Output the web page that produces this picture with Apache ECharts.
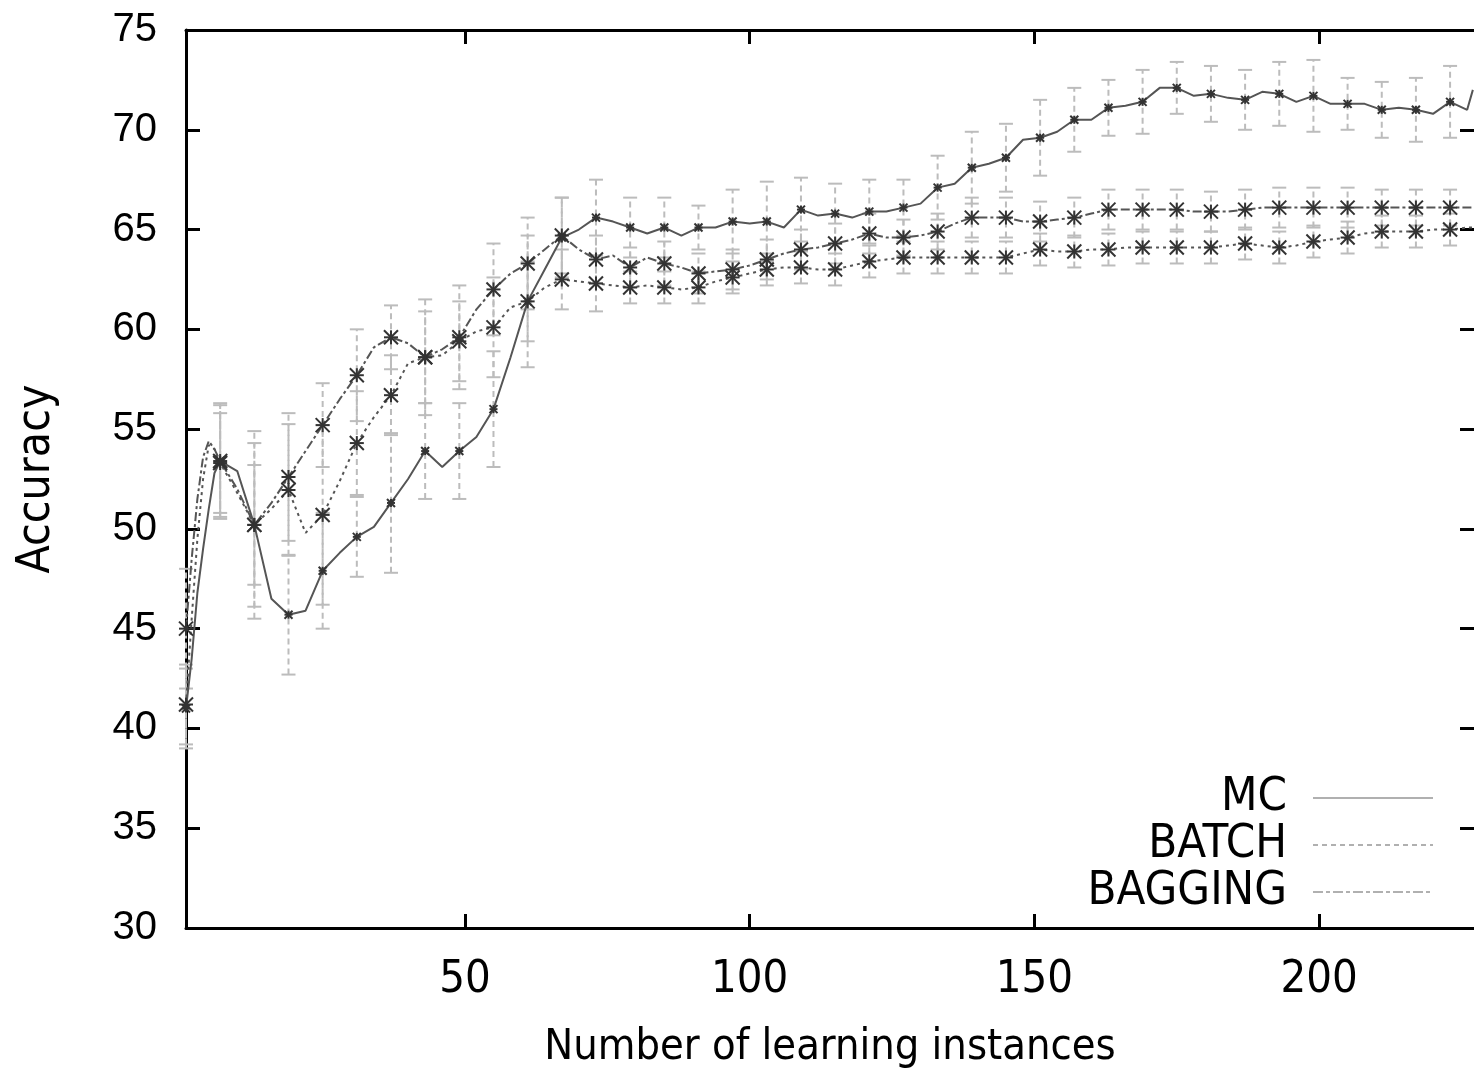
<!DOCTYPE html>
<html>
<head>
<meta charset="utf-8">
<script src="https://cdn.jsdelivr.net/npm/echarts@6/dist/echarts.min.js"></script>
<style>
html,body{margin:0;padding:0;background:#fff;}
#chart{width:1474px;height:1069px;}
</style>
</head>
<body>
<div id="chart"></div>
<script>
// ---- data ----
const instances = [1,2,3,4,5,6,7,
  10,13,16,19,22,25,28,31,34,37,
  40,43,46,49,52,55,58,61,64,67,
  70,73,76,79,82,85,88,91,94,97,
  100,103,106,109,112,115,118,121,124,127,
  130,133,136,139,142,145,148,151,154,157,
  160,163,166,169,172,175,178,181,184,187,
  190,193,196,199,202,205,208,211,214,217,
  220,223,226,227];

const mcAccuracy = [41.0,43.5,46.8,49.0,51.0,52.8,53.4,
  52.9,50.2,46.5,45.7,45.9,47.9,48.8,49.6,50.1,51.3,
  52.5,53.9,53.1,53.9,54.6,56.0,58.6,61.4,63.0,64.6,
  65.0,65.6,65.4,65.1,64.8,65.1,64.7,65.1,65.1,65.4,
  65.3,65.4,65.1,66.0,65.7,65.8,65.6,65.9,65.9,66.1,
  66.3,67.1,67.3,68.1,68.3,68.6,69.5,69.6,69.9,70.5,
  70.5,71.1,71.2,71.4,72.1,72.1,71.7,71.8,71.6,71.5,
  71.9,71.8,71.4,71.7,71.3,71.3,71.3,71.0,71.1,71.0,
  70.8,71.4,71.0,72.0];

const batchAccuracy = [41.2,45.5,49.5,52.5,54.2,54.0,53.3,
  51.8,50.2,51.0,51.95,49.8,50.7,52.4,54.3,55.6,56.7,
  58.3,58.6,58.7,59.4,59.9,60.1,61.1,61.4,62.1,62.5,
  62.4,62.3,62.2,62.1,62.2,62.1,62.0,62.1,62.4,62.6,
  62.8,63.0,63.1,63.1,63.0,63.0,63.2,63.4,63.5,63.6,
  63.6,63.6,63.6,63.6,63.6,63.6,63.8,64.0,63.9,63.9,
  64.0,64.0,64.1,64.1,64.1,64.1,64.1,64.1,64.2,64.3,
  64.2,64.1,64.2,64.4,64.5,64.6,64.8,64.9,64.9,64.9,
  65.0,65.0,65.1,65.1];

const baggingAccuracy = [45.0,48.5,51.5,53.6,54.4,54.0,53.4,
  52.0,50.2,51.3,52.6,53.9,55.2,56.5,57.7,59.1,59.6,
  59.3,58.6,59.0,59.6,61.0,62.0,62.8,63.3,64.0,64.7,
  64.0,63.5,63.7,63.1,63.6,63.3,63.1,62.8,62.9,63.0,
  63.2,63.5,63.8,64.0,64.1,64.3,64.5,64.8,64.6,64.6,
  64.7,64.9,65.3,65.6,65.6,65.6,65.4,65.4,65.5,65.6,
  65.8,66.0,66.0,66.0,66.0,66.0,65.9,65.9,65.9,66.0,
  66.1,66.1,66.1,66.1,66.1,66.1,66.1,66.1,66.1,66.1,
  66.1,66.1,66.1,66.1];

// error bars every 6 instances (half widths)
const errorInstances = [1,7,13,19,25,31,37,43,49,55,61,67,73,79,85,91,97,103,109,115,
  121,127,133,139,145,151,157,163,169,175,181,187,193,199,205,211,217,223];
const mcError = [2.0,2.9,4.7,3.0,2.9,2.0,3.5,2.4,2.4,2.9,3.3,2.0,1.9,1.5,1.5,1.1,1.6,2.0,1.6,1.5,
  1.6,1.4,1.6,1.8,1.7,1.9,1.6,1.4,1.6,1.3,1.4,1.5,1.6,1.8,1.3,1.4,1.6,1.8];
const batchError = [2.0,2.5,3.0,3.3,4.5,2.6,2.0,2.3,2.0,2.5,2.0,1.5,1.4,0.8,0.8,0.8,0.8,0.8,0.8,0.8,
  0.8,0.8,0.8,0.8,0.8,0.8,0.8,0.8,0.8,0.8,0.8,0.8,0.8,0.8,0.8,0.8,0.8,0.8];
const baggingError = [3.0,2.8,4.1,3.2,2.1,2.3,1.6,2.9,2.6,2.3,2.3,1.9,1.2,1.0,1.1,1.0,1.0,1.0,1.0,1.0,
  1.0,0.9,0.9,1.0,1.0,1.0,1.0,1.0,1.0,1.0,1.0,1.0,1.0,1.0,1.0,0.9,0.9,0.9];

const xTickValues = [50, 100, 150, 200];
const seriesNames = ['MC', 'BATCH', 'BAGGING'];

// ---- build ----
const narrow = '"Liberation Sans Narrow", "DejaVu Sans Condensed", "Liberation Sans", Arial, sans-serif';
const regular = '"Liberation Sans", Arial, sans-serif';

function pairs(vals) { return instances.map((x, i) => [x, vals[i]]); }
function errData(vals, errs) {
  return errorInstances.map((x, k) => {
    const v = vals[instances.indexOf(x)];
    return [x, v, v - errs[k], v + errs[k]];
  });
}

function renderErr(params, api) {
  const x = api.value(0);
  const lo = api.coord([x, api.value(2)]);
  const hi = api.coord([x, api.value(3)]);
  const cap = 7;
  const st = { stroke: '#bcbcbc', lineWidth: 2, lineDash: [6, 4] };
  const cs = { stroke: '#bcbcbc', lineWidth: 2 };
  return { type: 'group', children: [
    { type: 'line', shape: { x1: lo[0], y1: lo[1], x2: hi[0], y2: hi[1] }, style: st },
    { type: 'line', shape: { x1: lo[0] - cap, y1: lo[1], x2: lo[0] + cap, y2: lo[1] }, style: cs },
    { type: 'line', shape: { x1: hi[0] - cap, y1: hi[1], x2: hi[0] + cap, y2: hi[1] }, style: cs }
  ]};
}
function markerRenderer(r, color) {
  return function (params, api) {
    const p = api.coord([api.value(0), api.value(1)]);
    const s = { stroke: color, lineWidth: 2 };
    return { type: 'group', children: [
      { type: 'line', shape: { x1: p[0] - r, y1: p[1] - r, x2: p[0] + r, y2: p[1] + r }, style: s },
      { type: 'line', shape: { x1: p[0] - r, y1: p[1] + r, x2: p[0] + r, y2: p[1] - r }, style: s },
      { type: 'line', shape: { x1: p[0] - r, y1: p[1], x2: p[0] + r, y2: p[1] }, style: s },
      { type: 'line', shape: { x1: p[0], y1: p[1] - r, x2: p[0], y2: p[1] + r }, style: s }
    ]};
  };
}

const valuesList = [mcAccuracy, batchAccuracy, baggingAccuracy];
const errList = [mcError, batchError, baggingError];
const lineTypes = ['solid', [3, 4], [9, 3, 3, 3]];
const markerSizes = [4, 7, 7];

const series = [];
valuesList.forEach((vals, i) => {
  series.push({
    type: 'custom', name: seriesNames[i] + ' error', renderItem: renderErr,
    data: errData(vals, errList[i]), encode: { x: 0, y: 1 }, z: 1, clip: false, silent: true
  });
});
valuesList.forEach((vals, i) => {
  series.push({
    type: 'line', name: seriesNames[i], data: pairs(vals), showSymbol: false, symbol: 'none',
    lineStyle: { color: '#555', width: 2, type: lineTypes[i] }, z: 2, clip: true
  });
});
valuesList.forEach((vals, i) => {
  series.push({
    type: 'custom', name: seriesNames[i] + ' points', renderItem: markerRenderer(markerSizes[i], '#333'),
    data: errData(vals, errList[i]), encode: { x: 0, y: 1 }, z: 3, clip: false, silent: true
  });
});

// legend drawn as graphic (text right-aligned, sample line to its right)
const legendY = [798, 845, 892];
const legendDash = [null, [5, 4], [10, 3, 4, 3]];
const graphic = [];
seriesNames.forEach((n, i) => {
  graphic.push({ type: 'text', x: 1287, y: legendY[i],
    style: { text: n, font: '47px ' + narrow, fill: '#000', align: 'right', verticalAlign: 'middle' } });
  graphic.push({ type: 'line', shape: { x1: 1313, y1: legendY[i], x2: 1433, y2: legendY[i] },
    style: { stroke: '#b0b0b0', lineWidth: 2, lineDash: legendDash[i] } });
});

const axisLineStyle = { color: '#000', width: 3 };
const tickStyle = { color: '#000', width: 3 };

const option = {
  animation: false,
  backgroundColor: '#fff',
  grid: { left: 186, top: 30, right: 0, bottom: 141, containLabel: false, outerBoundsMode: 'none' },
  xAxis: [{
    type: 'value', min: 1, max: 227.2, position: 'bottom',
    axisLine: { show: true, lineStyle: axisLineStyle },
    axisTick: { show: true, inside: true, length: 14, lineStyle: tickStyle, customValues: xTickValues },
    axisLabel: { customValues: xTickValues, fontSize: 45, fontFamily: narrow, color: '#000', margin: 30 },
    splitLine: { show: false },
    name: 'Number of learning instances', nameLocation: 'middle', nameGap: 98,
    nameTextStyle: { fontSize: 43, fontFamily: narrow, color: '#000' }
  }, {
    type: 'value', min: 1, max: 227.2, position: 'top',
    axisLine: { show: true, lineStyle: axisLineStyle },
    axisTick: { show: true, inside: true, length: 14, lineStyle: tickStyle, customValues: xTickValues },
    axisLabel: { show: false }, splitLine: { show: false }
  }],
  yAxis: [{
    type: 'value', min: 30, max: 75, interval: 5, position: 'left',
    axisLine: { show: true, lineStyle: axisLineStyle },
    axisTick: { show: true, inside: true, length: 14, lineStyle: tickStyle },
    axisLabel: { fontSize: 40, fontFamily: regular, color: '#000', margin: 29 },
    splitLine: { show: false },
    name: 'Accuracy', nameLocation: 'middle', nameGap: 126, nameRotate: 90,
    nameTextStyle: { fontSize: 46, fontFamily: narrow, color: '#000' }
  }, {
    type: 'value', min: 30, max: 75, interval: 5, position: 'right',
    axisLine: { show: false },
    axisTick: { show: true, inside: true, length: 14, lineStyle: tickStyle },
    axisLabel: { show: false }, splitLine: { show: false }
  }],
  series: series,
  graphic: graphic
};

const chart = echarts.init(document.getElementById('chart'), null, { renderer: 'canvas' });
chart.setOption(option);
</script>
</body>
</html>
